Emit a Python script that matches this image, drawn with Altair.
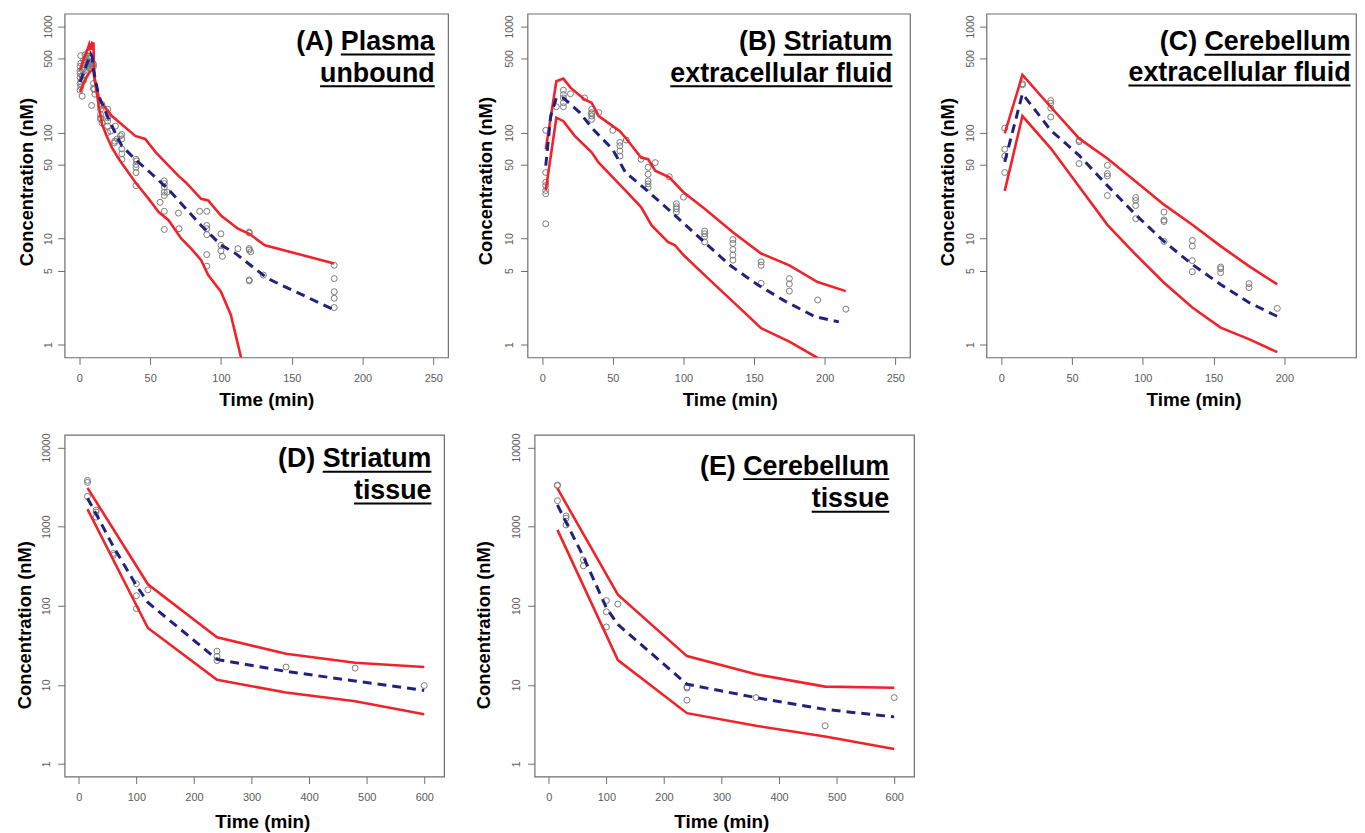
import altair as alt
import pandas as pd

# ---------------- data ----------------
# (A) Plasma unbound
A_obs_t = [0.5, 0.5, 0.5, 0.5, 0.5, 0.5, 1, 1, 1, 1, 2, 2, 2, 3, 3, 3, 4, 4, 4, 5, 5, 5,
           6, 6, 6, 7, 7, 7, 8, 8, 8, 8, 9, 9, 10, 10, 10, 10, 10.3, 11, 8.7,
           15, 15, 15, 15, 16, 15, 16, 20, 20, 20, 20, 22, 20, 25.5, 24.8,
           25, 26.7, 29, 30, 30, 30, 30, 30, 40, 40, 40, 40, 40, 40.5,
           60, 60, 60, 60, 60, 62, 57, 60, 60, 70, 70.4,
           85, 90, 90, 90, 90, 90, 90, 100, 100, 100, 101, 112,
           120, 120, 120, 120, 121, 120, 120, 130, 180, 180, 180, 180, 180]
A_obs_c = [330, 380, 290, 250, 420, 360, 530, 450, 300, 270, 220, 340, 390, 480, 400, 310, 540, 430, 350, 500, 380, 460,
           560, 420, 470, 520, 440, 400, 580, 450, 400, 500, 420, 460, 420, 440, 290, 260, 255, 230, 180,
           178, 166, 148, 138, 184, 134, 123, 166, 138, 128, 115, 103, 100, 115, 80,
           83, 87, 93, 96, 87, 70, 63, 56, 56, 50, 47, 42, 31.6, 54,
           35, 33, 30.6, 27.4, 25.5, 27.4, 22, 18.1, 12.2, 17.4, 12.4,
           18.1, 18.1, 13.3, 12.4, 10.9, 7.07, 5.5, 11.1, 8.66, 7.66, 6.8, 8.05,
           11.5, 11.3, 8.05, 7.8, 7.5, 4.07, 4.0, 4.53, 5.6, 4.2, 3.16, 2.74, 2.24]
A_hi_t = [0.5, 2, 4, 6, 7, 8, 9, 10, 10.5, 14, 23, 39.5, 46.5, 54, 63, 70, 75, 86, 91, 100, 112, 120, 131, 180]
A_hi_c = [390, 450, 530, 620, 680, 600, 700, 690, 340, 205, 143, 93, 87, 65, 48.7, 39, 34, 23.7, 22.9, 16.5, 12.4, 11.1, 8.66, 5.83]
A_lo_t = [0.5, 2, 4, 6, 8, 10, 10.5, 12, 14, 16, 19, 23, 28, 39.5, 49, 56, 63, 72, 79, 86, 91, 100, 107, 116]
A_lo_c = [240, 270, 310, 350, 380, 400, 330, 250, 170, 120, 95, 72, 56, 34, 23.7, 17.8, 14.9, 10, 8.06, 6.26, 4.53, 3.16, 1.91, 0.6]
A_med_t = [0.5, 2, 4, 6, 8, 9, 10, 11, 13.8, 20.8, 27.8, 30, 40, 50, 63, 86, 100, 110, 133, 180]
A_med_c = [300, 340, 400, 470, 550, 520, 400, 330, 220, 133, 85, 75, 55, 42, 29, 13.3, 8.7, 7.3, 4.2, 2.13]

# (B) Striatum extracellular fluid
B_obs_t = [2.5, 2.5, 2.5, 2.5, 2.5, 2.5, 2.5, 10, 15, 15, 15, 15, 15, 20, 30,
           35, 35, 35, 35, 35, 40, 50, 55, 55, 55, 55, 59.5, 70,
           75, 75, 75, 75, 75, 80, 90, 100, 95, 95, 95, 95,
           115, 115, 115, 115, 135, 135, 135, 135, 135, 155, 155, 155, 175, 175, 175, 195, 215]
B_obs_c = [105, 42, 34, 31.6, 28.4, 26.5, 13.8, 175, 251, 228, 212, 191, 175, 232, 212,
           166, 154, 143, 133, 150, 154, 105, 80.6, 75, 67, 60, 85, 56,
           47, 40.5, 35, 32.8, 30.4, 52, 38.3, 24.6, 21.3, 20, 19.1, 17.8,
           11.8, 11.1, 10.4, 9.3, 9.8, 9, 7.9, 7, 6.26, 6.04, 5.6, 3.79, 4.2, 3.73, 3.2, 2.64, 2.16]
B_hi_t = [2.5, 10, 15, 20, 30, 35, 40, 50, 55, 60, 70, 75, 80, 90, 100, 115, 135, 155, 175, 195, 215]
B_hi_c = [69.6, 304, 322, 265, 205, 191, 143, 115, 103, 86, 58, 56, 43.7, 37.8, 27.4, 19.1, 11.5, 7.24, 5.6, 3.9, 3.2]
B_lo_t = [2.5, 10, 15, 23, 35, 40, 50, 60, 70, 77.5, 89, 94, 100, 115, 135, 155, 175, 195, 215]
B_lo_c = [28.4, 138, 128, 93, 65, 52, 37.8, 27.4, 19.8, 13.3, 9.3, 8.66, 7, 4.53, 2.55, 1.43, 1.07, 0.75, 0.55]
B_med_t = [2.5, 6, 10, 15, 26.6, 35.9, 49.8, 59, 72.9, 91.4, 114.6, 133, 152.8, 172.5, 193, 210]
B_med_c = [48.7, 143, 212, 212, 154, 108, 69.6, 42, 29.4, 17.8, 9.3, 5.6, 3.65, 2.55, 1.84, 1.64]

# (C) Cerebellum extracellular fluid
C_obs_t = [2.5, 2.5, 2.5, 2.5, 15, 15, 35, 35, 35, 35, 55, 55, 55, 75, 75, 75, 75,
           95, 95, 95, 95, 115, 115, 115, 115, 135, 135, 135, 135, 155, 155, 155, 175, 175, 195]
C_obs_c = [110, 69.6, 60, 42, 288, 282, 200, 189, 170, 140, 84.5, 82, 51, 49, 41, 38.9, 25.5,
           24.4, 22.9, 20.5, 15.4, 17.8, 15, 14.5, 9.4, 9.6, 8.5, 6.2, 4.87, 5.4, 5.2, 4.77, 3.76, 3.45, 2.2]
C_line_t = [2.5, 15, 35, 55, 75, 95, 115, 135, 155, 175, 195]
C_hi_c = [98, 349, 174, 88, 57, 34.5, 20.9, 13.5, 8.5, 5.5, 3.7]
C_lo_c = [28.2, 143, 71, 31, 13.5, 7.08, 3.84, 2.24, 1.45, 1.13, 0.85]
C_med_c = [53, 232, 105, 61, 31.6, 16.8, 9.4, 5.7, 3.7, 2.5, 1.85]

# (D) Striatum tissue
D_obs_t = [15, 15, 15, 30, 30, 30, 60, 60, 100, 100, 100, 120, 240, 240, 240, 360, 480, 600]
D_obs_c = [3850, 3630, 2410, 1620, 1530, 1320, 460, 435, 190, 134, 92, 159, 26.7, 23, 20.3, 16.8, 16.3, 9.8]
D_band_t = [15, 120, 240, 360, 480, 600]
D_hi_c = [3090, 187, 40, 24.7, 19, 16.8]
D_lo_c = [1670, 52.4, 11.6, 8, 6.2, 4.25]
D_med_t = [15, 30, 60, 100, 120, 240, 360, 480, 600]
D_med_c = [2290, 1450, 560, 180, 110, 21, 14.8, 11.2, 8.5]

# (E) Cerebellum tissue
E_obs_t = [15, 15, 15, 30, 30, 30, 60, 60, 100, 100, 100, 120, 240, 240, 240, 360, 480, 600]
E_obs_c = [3360, 3300, 2130, 1365, 1280, 1050, 380, 320, 116, 84, 54, 105, 9.4, 9.1, 6.4, 6.9, 3.04, 6.9]
E_band_t = [15, 120, 240, 360, 480, 600]
E_hi_c = [3040, 138, 23.1, 13.6, 9.5, 9.2]
E_lo_c = [910, 20.6, 4.39, 3.04, 2.23, 1.55]
E_med_t = [15, 60, 100, 120, 240, 360, 480, 600]
E_med_c = [1880, 420, 94, 58, 10.2, 6.9, 4.9, 3.94]

# panel labels: (prefix, underlined part of line 1, underlined line 2)
labels = {
    "A": ("(A) ", "Plasma", "unbound"),
    "B": ("(B) ", "Striatum", "extracellular fluid"),
    "C": ("(C) ", "Cerebellum", "extracellular fluid"),
    "D": ("(D) ", "Striatum", "tissue"),
    "E": ("(E) ", "Cerebellum", "tissue"),
}
ticks_top_x = [0, 50, 100, 150, 200, 250]
ticks_c_x = [0, 50, 100, 150, 200]
ticks_bot_x = [0, 100, 200, 300, 400, 500, 600]
ticks_top_y = [1, 5, 10, 50, 100, 500, 1000]
ticks_bot_y = [1, 10, 100, 1000, 10000]

# ---------------- styling ----------------
FONT = "Liberation Sans"
RED = "#f0232a"
NAVY = "#22227e"
GREY_PT = "#7a7a7a"
ANN_FS = 27

# Arial/Liberation Sans Bold advance widths (per 1000 em)
ADV = {' ': 278, '(': 333, ')': 333, 'A': 722, 'B': 722, 'C': 722, 'D': 722, 'E': 667,
       'P': 667, 'S': 667, 'a': 556, 'b': 611, 'c': 556, 'd': 611, 'e': 556, 'f': 333,
       'i': 278, 'l': 278, 'm': 889, 'n': 611, 'o': 611, 'r': 389, 's': 556, 't': 333,
       'u': 611, 'x': 556}


def text_w(s, fs):
    return sum(ADV.get(ch, 556) for ch in s) * fs / 1000.0


one = pd.DataFrame({"k": [0]})


def panel(key, obs_t, obs_c, hi_t, hi_c, lo_t, lo_c, med_t, med_c,
          W, H, xdom, ydom, xticks, yticks, lab_pad, ytitle_x, ytitle_y,
          xtitle_x, xtitle_y, ann_r, b1, b2):
    xaxis = alt.Axis(values=xticks, title="Time (min)", grid=False, domain=False,
                     tickSize=7, tickColor="#6e6e6e", tickWidth=1,
                     labelColor="#5a5a5a", labelFontSize=11, labelFont=FONT,
                     labelPadding=8, labelFlush=False, labelOverlap=False,
                     titleFont=FONT, titleFontSize=19, titleFontWeight="bold",
                     titleColor="black", titleX=xtitle_x, titleY=xtitle_y,
                     titleBaseline="top", titleAlign="center")
    yaxis = alt.Axis(values=yticks, format="d", title="Concentration (nM)", grid=False,
                     domain=False, tickSize=7, tickColor="#6e6e6e", tickWidth=1,
                     labelColor="#5a5a5a", labelFontSize=10.5, labelFont=FONT,
                     labelAngle=270, labelAlign="center", labelBaseline="bottom",
                     labelPadding=lab_pad, labelFlush=False, labelOverlap=False,
                     titleFont=FONT, titleFontSize=18.5, titleFontWeight="bold",
                     titleColor="black", titleAngle=270, titleAlign="center",
                     titleBaseline="bottom", titleX=ytitle_x, titleY=ytitle_y)
    xs = alt.Scale(domain=xdom, nice=False, zero=False)
    ys = alt.Scale(type="log", domain=ydom, nice=False)
    X = alt.X("t:Q", scale=xs, axis=xaxis)
    Y = alt.Y("c:Q", scale=ys, axis=yaxis)

    obs = pd.DataFrame({"t": obs_t, "c": obs_c})
    band = pd.concat([
        pd.DataFrame({"t": hi_t, "c": hi_c, "s": "hi"}),
        pd.DataFrame({"t": lo_t, "c": lo_c, "s": "lo"}),
    ])
    med = pd.DataFrame({"t": med_t, "c": med_c})

    pts = alt.Chart(obs).mark_point(shape="circle", filled=False, size=36,
                                    color=GREY_PT, strokeWidth=1, opacity=1,
                                    clip=True).encode(x=X, y=Y)
    red = alt.Chart(band).mark_line(color=RED, strokeWidth=2.6, clip=True).encode(
        x=X, y=Y, detail="s:N")
    mline = alt.Chart(med).mark_line(color=NAVY, strokeWidth=3, strokeDash=[9, 6],
                                     clip=True).encode(x=X, y=Y)

    pre, u1, u2 = labels[key]
    xr = W - ann_r
    t1 = alt.Chart(one).mark_text(text=pre + u1, font=FONT, fontSize=ANN_FS,
                                  fontWeight="bold", align="right",
                                  baseline="alphabetic", color="black").encode(
        x=alt.value(xr), y=alt.value(b1))
    t2 = alt.Chart(one).mark_text(text=u2, font=FONT, fontSize=ANN_FS,
                                  fontWeight="bold", align="right",
                                  baseline="alphabetic", color="black").encode(
        x=alt.value(xr), y=alt.value(b2))
    r1 = alt.Chart(one).mark_rule(color="black", strokeWidth=2).encode(
        x=alt.value(xr - text_w(u1, ANN_FS)), x2=alt.value(xr), y=alt.value(b1 + 4.5))
    r2 = alt.Chart(one).mark_rule(color="black", strokeWidth=2).encode(
        x=alt.value(xr - text_w(u2, ANN_FS)), x2=alt.value(xr), y=alt.value(b2 + 4.5))

    return alt.layer(pts, red, mline, t1, t2, r1, r2).properties(width=W, height=H)


TOP_Y = [10 ** -0.12, 10 ** 3.12]
BOT_Y = [10 ** -0.16, 10 ** 4.16]
TOP_X = [-10.4, 260.4]
BOT_X = [-24.7, 634.5]

pA = panel("A", A_obs_t, A_obs_c, A_hi_t, A_hi_c, A_lo_t, A_lo_c, A_med_t, A_med_c,
           386, 346, TOP_X, TOP_Y, ticks_top_x, ticks_top_y, 3.8, -28.8, 169, 203, 33.3,
           13.4, 36.5, 68.5)
pB = panel("B", B_obs_t, B_obs_c, B_hi_t, B_hi_c, B_lo_t, B_lo_c, B_med_t, B_med_c,
           385, 346, TOP_X, TOP_Y, ticks_top_x, ticks_top_y, 5.8, -32.1, 168, 203.5, 33.3,
           17.7, 36.7, 68.4)
pC = panel("C", C_obs_t, C_obs_c, C_line_t, C_hi_c, C_line_t, C_lo_c, C_line_t, C_med_c,
           372, 346, [-10.4, 250.6], TOP_Y, ticks_c_x, ticks_top_y, 4.2, -29.5, 169, 208.5, 33.3,
           5.5, 36.7, 67.7)
pD = panel("D", D_obs_t, D_obs_c, D_band_t, D_hi_c, D_band_t, D_lo_c, D_med_t, D_med_c,
           382, 344, BOT_X, BOT_Y, ticks_bot_x, ticks_bot_y, 6.5, -30.1, 191, 199, 36.5,
           12.7, 32.5, 64.5)
pE = panel("E", E_obs_t, E_obs_c, E_band_t, E_hi_c, E_band_t, E_lo_c, E_med_t, E_med_c,
           382, 344, BOT_X, BOT_Y, ticks_bot_x, ticks_bot_y, 6.5, -41.8, 191, 188, 36.5,
           25, 40, 72.8)

row1 = alt.hconcat(alt.hconcat(pA, pB, spacing=27), pC, spacing=26)
row2 = alt.hconcat(pD, pE, spacing=28.1)

chart = alt.vconcat(row1, row2, spacing=22).properties(
    padding={"left": 7, "top": 2, "right": 0, "bottom": 0},
    background="white",
).configure_view(stroke="#6e6e6e", strokeWidth=1.2)

chart.save("out.html", embed_options={"renderer": "svg", "actions": False})
